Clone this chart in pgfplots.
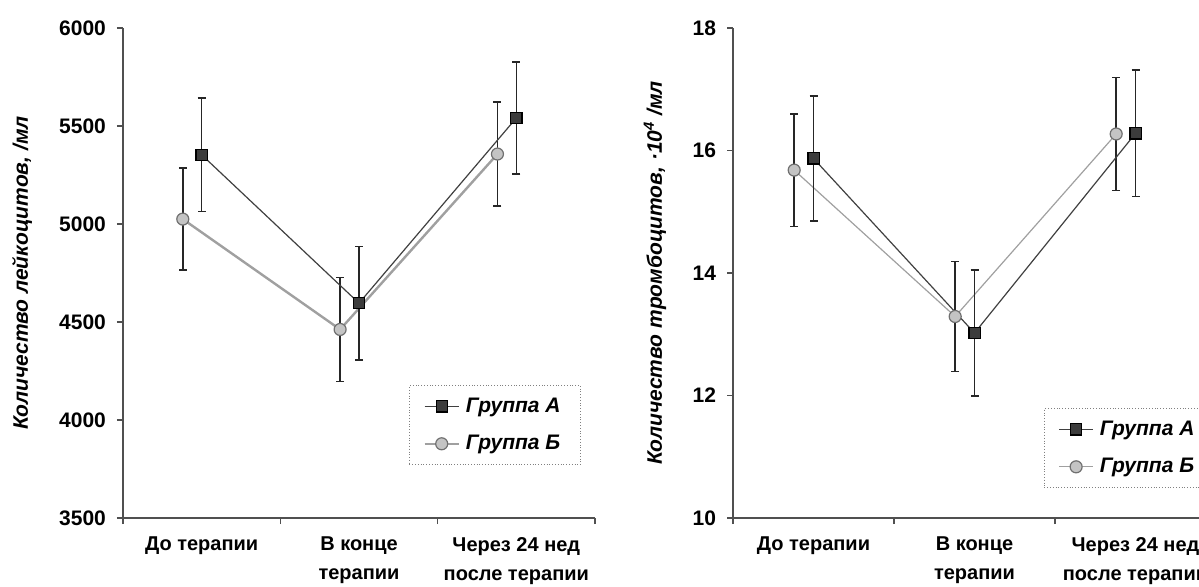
\documentclass[border=0pt]{standalone}
\usepackage{pgfplots}
\pgfplotsset{compat=1.18}
\usepackage{fontspec}
\setmainfont{Liberation Sans}
\definecolor{gA}{HTML}{3C3C3C}
\definecolor{gAline}{HTML}{404040}
\definecolor{gB}{HTML}{C4C4C4}
\definecolor{gBedge}{HTML}{707070}
\definecolor{gBline}{HTML}{A0A0A0}
\definecolor{axgray}{HTML}{505050}
\pgfplotsset{
  panel/.style={
    scale only axis, height=245pt,
    xmin=0, xmax=3,
    clip=false,
    axis x line*=bottom, axis y line*=left,
    axis line style={draw=axgray, line width=0.8pt},
    xtick={0,1,2,3}, xticklabels={},
    tick align=outside, major tick length=3pt,
    tick style={draw=axgray, line width=0.8pt},
    extra x ticks={0.5,1.5,2.5},
    extra x tick labels={До терапии,{В конце\\терапии},{Через 24 нед\\после терапии}},
    extra x tick style={major tick length=0pt,
      xticklabel style={align=center, font=\bfseries\fontsize{10}{14.5}\selectfont, yshift=-6pt}},
    yticklabel style={font=\bfseries\fontsize{10.5}{12}\selectfont, xshift=-2pt},
    /pgf/number format/assume math mode=true,
    /pgf/number format/1000 sep={},
    legend style={draw=gray, densely dotted, fill=white, font=\bfseries\itshape\fontsize{10.5}{12}\selectfont,
      inner xsep=7pt, inner ysep=4pt, row sep=6pt, legend cell align=left, anchor=north west,
      nodes={solid, inner xsep=3pt}},
    legend image post style={solid},
  },
  ebar/.style={error bars/.cd, y dir=both, y explicit,
    error bar style={line width=0.8pt, draw=black!85, solid},
    error mark options={rotate=90, line width=0.8pt, mark size=2pt, draw=black!85, solid}},
}
\begin{document}
\begin{tikzpicture}
\useasboundingbox (0,0) rectangle (599.5pt,293pt);
% ---------- left panel ----------
\begin{axis}[panel, at={(61.5pt,34pt)}, anchor=south west, width=236pt,
  ymin=3500, ymax=6000, ytick={3500,4000,4500,5000,5500,6000},
  ylabel={Количество лейкоцитов, /мл},
  every axis y label/.style={at={([xshift=-50.5pt]axis description cs:0,0.5)}, anchor=center, rotate=90,
      font=\bfseries\itshape\fontsize{10.5}{12}\selectfont},
  legend style={at={(0.606,0.271)}}]
\addlegendimage{line width=0.6pt, color=gAline, mark=square*, mark size=2.8pt, mark options={fill=gA, draw=black}}
\addlegendentry{Группа А}
\addlegendimage{line width=1.2pt, color=gBline, mark=*, mark size=3pt, mark options={fill=gB, draw=gBedge, line width=0.6pt}}
\addlegendentry{Группа Б}
\addplot[forget plot, line width=1.2pt, color=gBline, mark=*, mark size=3pt,
  mark options={fill=gB, draw=gBedge, line width=0.6pt}, ebar]
  table[x=x, y=y, y error=e] {
x y e
0.38 5025 260
1.38 4462 265
2.38 5357 265
};
\addplot[forget plot, line width=0.6pt, color=gAline, mark=square*, mark size=2.8pt,
  mark options={fill=gA, draw=black}, ebar]
  table[x=x, y=y, y error=e] {
x y e
0.5 5353 290
1.5 4596 290
2.5 5541 285
};
\end{axis}
% ---------- right panel ----------
\begin{axis}[panel, at={(366.5pt,34pt)}, anchor=south west, width=241.5pt,
  ymin=10, ymax=18, ytick={10,12,14,16,18},
  ylabel={Количество тромбоцитов, ·10\textsuperscript{4} /мл},
  every axis y label/.style={at={([xshift=-39pt]axis description cs:0,0.5)}, anchor=center, rotate=90,
      font=\bfseries\itshape\fontsize{10.5}{12}\selectfont},
  legend style={at={(0.644,0.224)}}]
\addlegendimage{line width=0.6pt, color=gAline, mark=square*, mark size=2.8pt, mark options={fill=gA, draw=black}}
\addlegendentry{Группа А}
\addlegendimage{line width=0.6pt, color=gBline, mark=*, mark size=3pt, mark options={fill=gB, draw=gBedge, line width=0.6pt}}
\addlegendentry{Группа Б}
\addplot[forget plot, line width=0.6pt, color=gBline, mark=*, mark size=3pt,
  mark options={fill=gB, draw=gBedge, line width=0.6pt}, ebar]
  table[x=x, y=y, y error=e] {
x y e
0.38 15.68 0.92
1.38 13.29 0.90
2.38 16.27 0.92
};
\addplot[forget plot, line width=0.6pt, color=gAline, mark=square*, mark size=2.8pt,
  mark options={fill=gA, draw=black}, ebar]
  table[x=x, y=y, y error=e] {
x y e
0.5 15.87 1.02
1.5 13.02 1.03
2.5 16.28 1.03
};
\end{axis}
\end{tikzpicture}
\end{document}
